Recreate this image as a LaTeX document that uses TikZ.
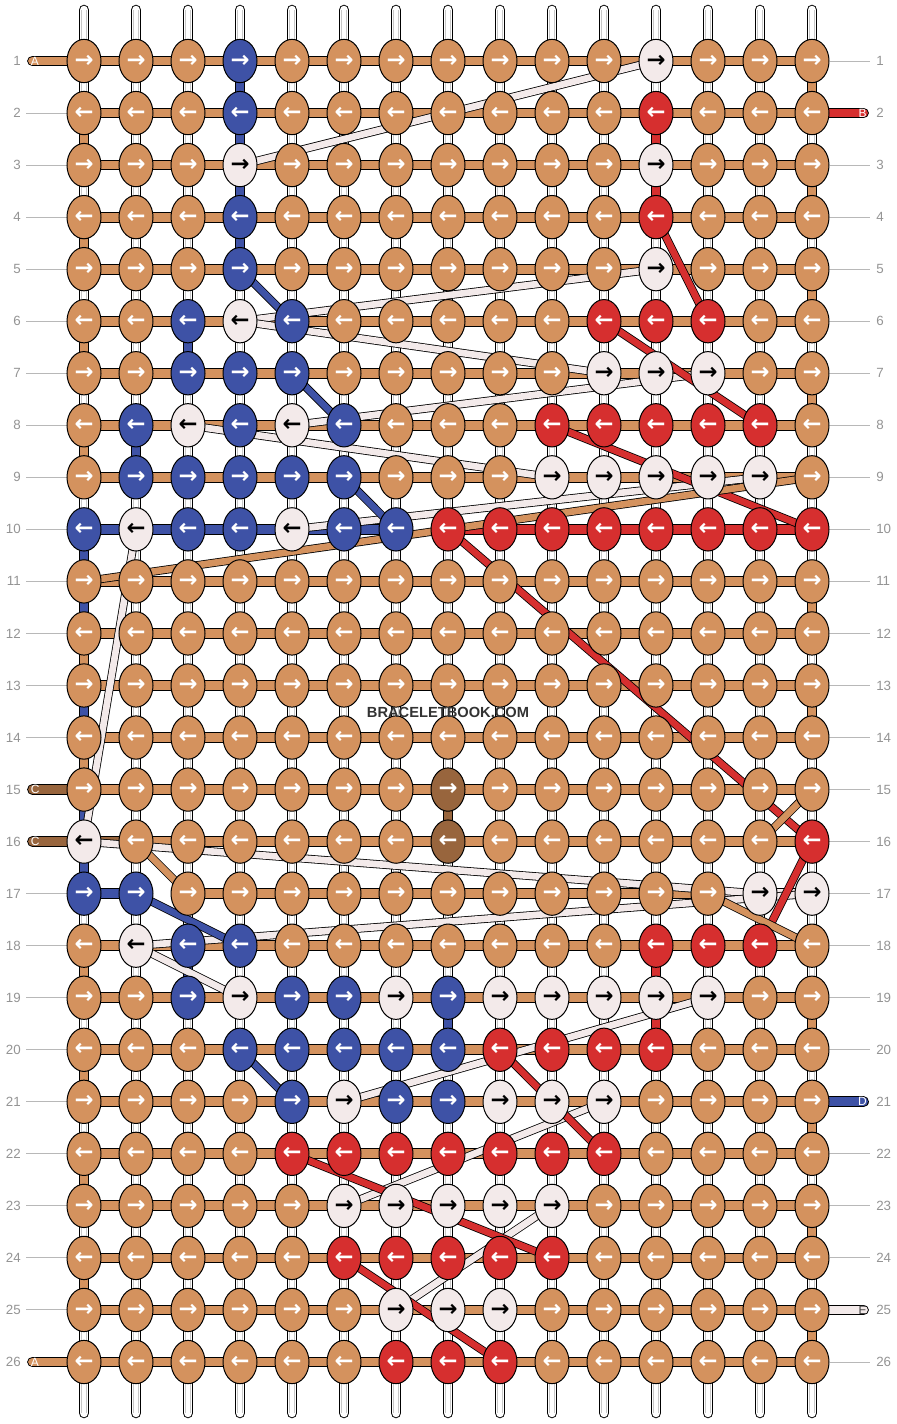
\documentclass[tikz,border=0pt]{standalone}
\usepackage{fontspec}
\setmainfont{Liberation Sans}
\newfontfamily\arrowfont{DejaVu Sans}
\usetikzlibrary{shapes.geometric}
\pgfdeclarelayer{strands}
\pgfdeclarelayer{bars}
\pgfdeclarelayer{diag}
\pgfsetlayers{strands,bars,diag,main}
\definecolor{cO}{RGB}{212,146,94}
\definecolor{cB}{RGB}{62,82,166}
\definecolor{cR}{RGB}{214,47,47}
\definecolor{cW}{RGB}{243,234,234}
\definecolor{cN}{RGB}{152,101,61}
\colorlet{tO}{white}\colorlet{tB}{white}\colorlet{tR}{white}\colorlet{tN}{white}\colorlet{tW}{black}
\colorlet{labgray}{black!42}
\colorlet{lingray}{black!28}
\tikzset{
  knot/.style={ellipse, draw=black, line width=0.75pt, minimum width=25.5pt, minimum height=32.5pt, inner sep=0pt, font=\arrowfont\bfseries\fontsize{17}{17}\selectfont},
  kcol/.style={fill=c#1, text=t#1},
  bar/.style={draw=black, line width=0.75pt, double distance=6.6pt},
  diagline/.style={draw=black, line width=0.6pt, double distance=5pt},
  rownum/.style={text=labgray, font=\fontsize{10}{10}\selectfont, inner sep=0pt},
  labline/.style={draw=lingray, line width=0.75pt},
  strandout/.style={draw=black, line width=7.9pt, line cap=round},
  strandin/.style={draw=white, line width=6.4pt, line cap=round},
  strandgray/.style={draw=black!22, line width=4.2pt},
  strandcore/.style={draw=white, line width=3.3pt},
  stringlab/.style={font=\fontsize{9}{9}\selectfont, inner sep=0pt},
  wmark/.style={font=\bfseries\fontsize{11}{11}\selectfont, text=black!80}
}
\begin{document}
\begin{tikzpicture}[x=0.75pt,y=-0.75pt]
\useasboundingbox (0,0) rectangle (896,1424);
% knots
\foreach \rr/\cols in {
 1/{O,O,O,B,O,O,O,O,O,O,O,W,O,O,O},
 2/{O,O,O,B,O,O,O,O,O,O,O,R,O,O,O},
 3/{O,O,O,W,O,O,O,O,O,O,O,W,O,O,O},
 4/{O,O,O,B,O,O,O,O,O,O,O,R,O,O,O},
 5/{O,O,O,B,O,O,O,O,O,O,O,W,O,O,O},
 6/{O,O,B,W,B,O,O,O,O,O,R,R,R,O,O},
 7/{O,O,B,B,B,O,O,O,O,O,W,W,W,O,O},
 8/{O,B,W,B,W,B,O,O,O,R,R,R,R,R,O},
 9/{O,B,B,B,B,B,O,O,O,W,W,W,W,W,O},
 10/{B,W,B,B,W,B,B,R,R,R,R,R,R,R,R},
 11/{O,O,O,O,O,O,O,O,O,O,O,O,O,O,O},
 12/{O,O,O,O,O,O,O,O,O,O,O,O,O,O,O},
 13/{O,O,O,O,O,O,O,O,O,O,O,O,O,O,O},
 14/{O,O,O,O,O,O,O,O,O,O,O,O,O,O,O},
 15/{O,O,O,O,O,O,O,N,O,O,O,O,O,O,O},
 16/{W,O,O,O,O,O,O,N,O,O,O,O,O,O,R},
 17/{B,B,O,O,O,O,O,O,O,O,O,O,O,W,W},
 18/{O,W,B,B,O,O,O,O,O,O,O,R,R,R,O},
 19/{O,O,B,W,B,B,W,B,W,W,W,W,W,O,O},
 20/{O,O,O,B,B,B,B,B,R,R,R,R,O,O,O},
 21/{O,O,O,O,B,W,B,B,W,W,W,O,O,O,O},
 22/{O,O,O,O,R,R,R,R,R,R,R,O,O,O,O},
 23/{O,O,O,O,O,W,W,W,W,W,O,O,O,O,O},
 24/{O,O,O,O,O,R,R,R,R,R,O,O,O,O,O},
 25/{O,O,O,O,O,O,W,W,W,O,O,O,O,O,O},
 26/{O,O,O,O,O,O,R,R,R,O,O,O,O,O,O}}{
  \foreach \k [count=\cc] in \cols {
    \pgfmathsetmacro\xx{84+52*(\cc-1)}
    \pgfmathsetmacro\yy{61+52.04*(\rr-1)}
    \node[knot,kcol=\k] (n-\rr-\cc) at (\xx,\yy) {\ifodd\rr →\else ←\fi};
  }
}
% strands
\begin{pgfonlayer}{strands}
\fill[white] (0,0) rectangle (896,1424);
\foreach \cc in {1,...,15}{
  \pgfmathsetmacro\xx{84+52*(\cc-1)}
  \coordinate (st-\cc) at (\xx,10);
  \coordinate (sb-\cc) at (\xx,1413);
  \coordinate (gt-\cc) at (\xx,8);
  \coordinate (gb-\cc) at (\xx,1415);
  \draw[strandout] (st-\cc) -- (sb-\cc);
  \draw[strandin] (st-\cc) -- (sb-\cc);
  \draw[strandgray] (st-\cc) -- (sb-\cc);
  \draw[strandcore] (gt-\cc) -- (gb-\cc);
}
\end{pgfonlayer}
% bars
\begin{pgfonlayer}{bars}
\foreach \rr in {1,...,9,11,12,13,14,15,18,19,20,21,22,23,24,25,26}{
  \foreach \cc [evaluate=\cc as \nn using int(\cc+1)] in {1,...,14}{
    \draw[bar,double=cO] (n-\rr-\cc.center) -- (n-\rr-\nn.center);
  }
}
\foreach \cc [evaluate=\cc as \nn using int(\cc+1)] in {1,...,6}{
  \draw[bar,double=cB] (n-10-\cc.center) -- (n-10-\nn.center);}
\foreach \cc [evaluate=\cc as \nn using int(\cc+1)] in {8,...,14}{
  \draw[bar,double=cR] (n-10-\cc.center) -- (n-10-\nn.center);}
\draw[bar,double=cN] (n-16-1.center) -- (n-16-2.center);
\foreach \cc [evaluate=\cc as \nn using int(\cc+1)] in {2,...,14}{
  \draw[bar,double=cO] (n-16-\cc.center) -- (n-16-\nn.center);}
\draw[bar,double=cB] (n-17-1.center) -- (n-17-2.center);
\foreach \cc [evaluate=\cc as \nn using int(\cc+1)] in {3,...,12}{
  \draw[bar,double=cO] (n-17-\cc.center) -- (n-17-\nn.center);}
\draw[bar,double=cW] (n-17-13.center) -- (n-17-14.center);
\draw[bar,double=cW] (n-17-14.center) -- (n-17-15.center);
% vertical bars
\foreach \rr/\cc/\k in {2/1/O,4/1/O,6/1/O,8/1/O,12/1/O,14/1/O,18/1/O,20/1/O,22/1/O,24/1/O,
  10/1/B,11/1/B,13/1/B,15/1/B,16/1/B,
  1/15/O,3/15/O,5/15/O,7/15/O,11/15/O,13/15/O,19/15/O,21/15/O,23/15/O,25/15/O,
  1/4/B,2/4/B,3/4/B,4/4/B,2/12/R,3/12/R,6/3/B,18/3/B,8/2/B,15/8/N,19/8/B,18/12/R,19/12/R}{
  \pgfmathtruncatemacro\nn{\rr+1}
  \draw[bar,double=c\k] (n-\rr-\cc.center) -- (n-\nn-\cc.center);
}
% row label lines
\foreach \rr in {2,...,14,17,18,...,25}{
  \pgfmathsetmacro\yy{61+52.04*(\rr-1)}
  \coordinate (ll-\rr) at (26,\yy);
  \draw[labline] (ll-\rr) -- (n-\rr-1.west);
}
\foreach \rr in {1,3,4,...,20,22,23,24,26}{
  \pgfmathsetmacro\yy{61+52.04*(\rr-1)}
  \coordinate (rl-\rr) at (870,\yy);
  \draw[labline] (n-\rr-15.east) -- (rl-\rr);
}
% side strings
\foreach \rr/\k/\lab in {1/O/A,15/N/C,16/N/C,26/O/A}{
  \pgfmathsetmacro\yy{61+52.04*(\rr-1)}
  \coordinate (ls-\rr) at (32.5,\yy);
  \draw[bar,double=c\k,line cap=round] (ls-\rr) -- (n-\rr-1.center);
  \node[stringlab,text=white,anchor=west] (sl-\rr) at (30.5,\yy) {\lab};
}
\foreach \rr/\k/\lab/\tc in {2/R/B/white,21/B/D/white,25/W/E/black!75}{
  \pgfmathsetmacro\yy{61+52.04*(\rr-1)}
  \coordinate (rs-\rr) at (863.5,\yy);
  \draw[bar,double=c\k,line cap=round] (n-\rr-15.center) -- (rs-\rr);
  \node[stringlab,text=\tc,anchor=east] (sr-\rr) at (867,\yy) {\lab};
}
\end{pgfonlayer}
% diagonal threads
\begin{pgfonlayer}{diag}
\foreach \ra/\ca/\rb/\cb/\k in {
  1/12/3/4/W, 5/12/6/4/W, 6/4/7/11/W, 7/13/8/5/W, 8/3/9/10/W, 9/14/10/5/W,
  10/2/16/1/W, 16/1/17/14/W, 17/15/18/2/W, 18/2/19/4/W, 19/13/21/6/W,
  21/11/23/6/W, 23/10/25/7/W,
  4/12/6/13/R, 6/11/8/14/R, 8/10/10/15/R, 10/8/16/15/R, 16/15/18/14/R,
  20/9/22/11/R, 22/5/24/10/R, 24/6/26/9/R,
  5/4/6/5/B, 7/5/8/6/B, 9/6/10/7/B, 17/2/18/4/B, 20/4/21/5/B,
  9/15/11/1/O, 15/15/16/14/O, 16/2/17/3/O, 17/13/18/15/O}{
  \draw[diagline,double=c\k] (n-\ra-\ca.center) -- (n-\rb-\cb.center);
}
\end{pgfonlayer}
% row numbers
\foreach \rr in {1,...,26}{
  \pgfmathsetmacro\yy{61+52.04*(\rr-1)}
  \node[rownum,anchor=east] (ln-\rr) at (21,\yy) {\rr};
  \node[rownum,anchor=west] (rn-\rr) at (876,\yy) {\rr};
}
\node[wmark] (wm) at (448,712) {BRACELETBOOK.COM};
\end{tikzpicture}
\end{document}
